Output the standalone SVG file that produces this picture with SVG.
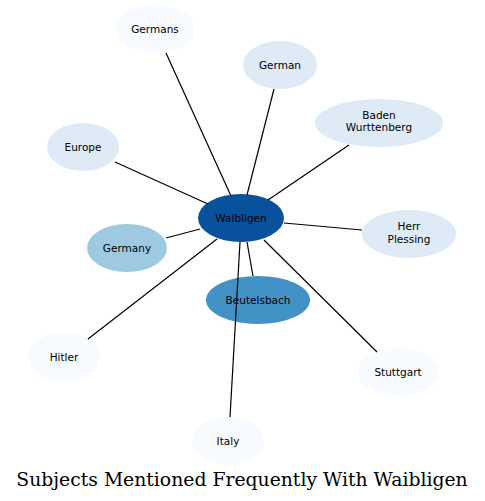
<svg xmlns="http://www.w3.org/2000/svg" width="485" height="501" viewBox="0 0 485 501">
<style>
.n text{font-family:"DejaVu Sans",sans-serif;font-size:10.5px;text-anchor:middle;fill:#000}
.e line{stroke:#000;stroke-width:1.2}
.t{font-family:"DejaVu Serif",serif;font-size:18.8px;text-anchor:middle;fill:#000}
</style>
<rect width="485" height="501" fill="#fff"/>
<g class="n">
<g id="waibligen"><ellipse cx="241" cy="218" rx="43" ry="24" fill="#08519c"/><text x="241" y="222">Waibligen</text></g>
<g id="germans"><ellipse cx="155" cy="29" rx="40" ry="24" fill="#f7fbff"/><text x="155" y="33">Germans</text></g>
<g id="german"><ellipse cx="280" cy="65" rx="37" ry="24" fill="#deebf7"/><text x="280" y="69">German</text></g>
<g id="baden"><ellipse cx="379" cy="123" rx="64" ry="24" fill="#deebf7"/><text x="379" y="119">Baden</text><text x="379" y="131">Wurttenberg</text></g>
<g id="europe"><ellipse cx="83" cy="147" rx="36" ry="24" fill="#deebf7"/><text x="83" y="151">Europe</text></g>
<g id="herr"><ellipse cx="409" cy="234" rx="47" ry="24" fill="#deebf7"/><text x="409" y="230">Herr</text><text x="409" y="243">Plessing</text></g>
<g id="germany"><ellipse cx="127" cy="248" rx="40" ry="24" fill="#9ecae1"/><text x="127" y="252">Germany</text></g>
<g id="beutelsbach"><ellipse cx="258" cy="300" rx="52" ry="24" fill="#4292c6"/><text x="258" y="304">Beutelsbach</text></g>
<g id="hitler"><ellipse cx="64" cy="357" rx="36" ry="24" fill="#f7fbff"/><text x="64" y="361">Hitler</text></g>
<g id="stuttgart"><ellipse cx="398" cy="372" rx="40" ry="24" fill="#f7fbff"/><text x="398" y="376">Stuttgart</text></g>
<g id="italy"><ellipse cx="228" cy="441" rx="36" ry="24" fill="#f7fbff"/><text x="228" y="445">Italy</text></g>
</g>
<g class="e">
<line x1="166" y1="53" x2="231" y2="196"/>
<line x1="274" y1="89" x2="247" y2="195"/>
<line x1="349" y1="145" x2="268" y2="200"/>
<line x1="115" y1="162" x2="208" y2="204"/>
<line x1="362" y1="230" x2="284" y2="223"/>
<line x1="166" y1="238" x2="200" y2="229"/>
<line x1="253" y1="276" x2="247" y2="242"/>
<line x1="88" y1="339" x2="217" y2="239"/>
<line x1="377" y1="352" x2="264" y2="240"/>
<line x1="230" y1="417" x2="240" y2="242"/>
</g>
<text class="t" x="242" y="486">Subjects Mentioned Frequently With Waibligen</text>
</svg>
